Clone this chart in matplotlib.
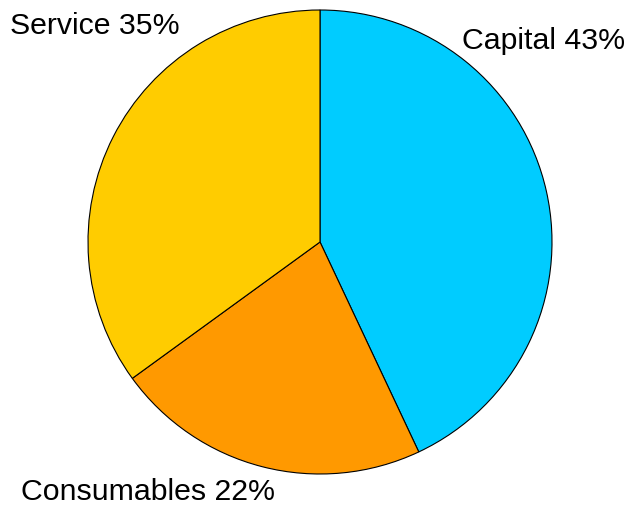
import matplotlib.pyplot as plt

# budget split
labels = ['Capital', 'Consumables', 'Service']
shares = [43, 22, 35]
colors = ['#00CCFF', '#FF9900', '#FFCC00']

plt.rcParams['font.family'] = ['Liberation Sans', 'DejaVu Sans']

fig = plt.figure(figsize=(6.29, 5.06), dpi=100)
ax = fig.add_axes([0, 0, 1, 1])
ax.axis('off')

ax.pie(shares, colors=colors, startangle=90, counterclock=False,
       center=(320, 263), radius=232,
       wedgeprops=dict(edgecolor='black', linewidth=0.8))
ax.set_xlim(0, 629)
ax.set_ylim(0, 506)
ax.set_aspect('equal')

# label positions (pixel coords, y from bottom)
label_pos = [(462, 465, 'left'), (21, 14, 'left'), (10, 480, 'left')]
for name, pct, (x, y, ha) in zip(labels, shares, label_pos):
    ax.text(x, y, f'{name} {pct}%', fontsize=21.8, ha=ha, va='center')

fig.savefig('out.png', dpi=100)
